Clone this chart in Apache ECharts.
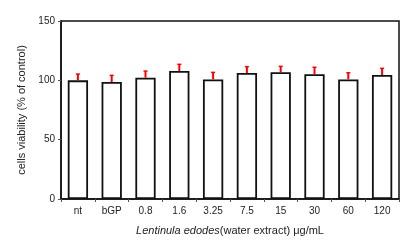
<!DOCTYPE html>
<html><head><meta charset="utf-8">
<script src="https://cdn.jsdelivr.net/npm/echarts@6/dist/echarts.min.js"></script>
<style>html,body{margin:0;padding:0;background:#fff}#c{width:418px;height:242px}</style>
</head><body><div id="c"></div>
<script>
const categories = ['nt','bGP','0.8','1.6','3.25','7.5','15','30','60','120'];
const viability = [100, 98.6, 102.2, 107.9, 100.8, 106.2, 106.8, 105.1, 100.8, 104.5];
const errors = [5.3, 5.6, 5.6, 5.6, 5.9, 5.3, 5.0, 5.9, 5.6, 5.6];
const yTicks = [0, 50, 100, 150];

const chart = echarts.init(document.getElementById('c'), null, {renderer:'canvas'});
const font = 'Liberation Sans, Arial, sans-serif';
chart.setOption({
  animation:false,
  grid:{left:61,right:19,top:21,bottom:43,show:true,borderColor:'#111',borderWidth:1.5,backgroundColor:'transparent'},
  xAxis:{type:'category',data:categories,
    axisLine:{lineStyle:{color:'#111',width:1.5}},
    axisTick:{show:true,length:3,lineStyle:{color:'#555'}},
    axisLabel:{color:'#222',fontSize:10,fontFamily:font,margin:7},
    name:'{i|Lentinula edodes}(water extract) μg/mL',
    nameLocation:'middle',nameGap:26,
    nameTextStyle:{color:'#222',fontSize:11,fontFamily:font,rich:{i:{fontStyle:'italic',fontSize:11,fontFamily:font,color:'#222'}}}
  },
  yAxis:{type:'value',min:yTicks[0],max:yTicks[yTicks.length-1],interval:50,
    axisLine:{show:true,lineStyle:{color:'#111',width:1.5}},
    axisTick:{show:true,length:3,lineStyle:{color:'#555'}},
    splitLine:{show:false},
    axisLabel:{color:'#222',fontSize:10,fontFamily:font,margin:6},
    name:'cells viability (% of control)',nameLocation:'middle',nameGap:30,
    nameTextStyle:{color:'#222',fontSize:11,fontFamily:font}
  },
  series:[
    {type:'bar',data:viability,barWidth:'60%',
     itemStyle:{color:'#fff',borderColor:'#111',borderWidth:1.8}},
    {type:'custom',data:viability.map((v,i)=>[i,v,v+errors[i]]),
     renderItem:function(params,api){
       const x=api.value(0);
       const p0=api.coord([x,api.value(1)]);
       const p1=api.coord([x,api.value(2)]);
       return {type:'group',children:[
         {type:'line',shape:{x1:p0[0],y1:p0[1],x2:p1[0],y2:p1[1]},style:{stroke:'#f00',lineWidth:2}},
         {type:'line',shape:{x1:p1[0]-2,y1:p1[1],x2:p1[0]+2,y2:p1[1]},style:{stroke:'#f00',lineWidth:1.5}}
       ]};
     },z:5}
  ]
});
</script></body></html>
